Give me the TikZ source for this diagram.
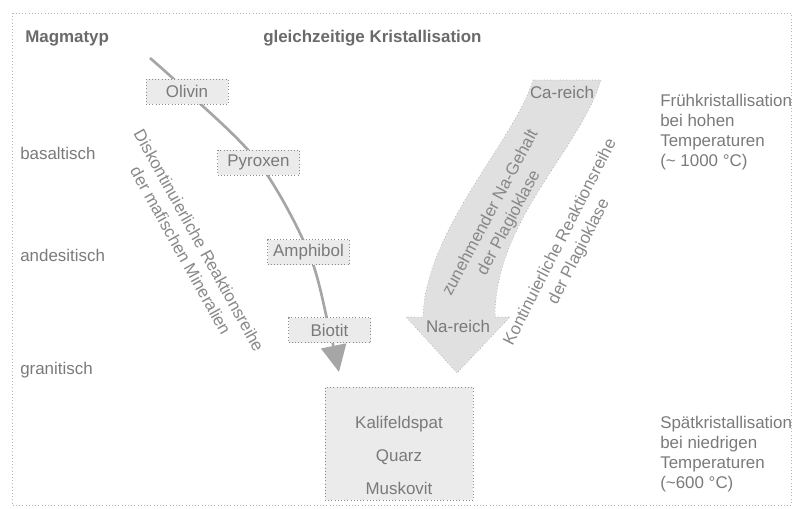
\documentclass[tikz,border=0pt]{standalone}
\usepackage{fontspec}
\setmainfont{Liberation Sans}
\usetikzlibrary{arrows.meta,backgrounds}

\definecolor{txtgray}{HTML}{7A7A7A}
\definecolor{titlegray}{HTML}{6A6A6A}
\definecolor{softgray}{HTML}{888888}
\definecolor{boxfill}{HTML}{EBEBEB}
\definecolor{boxline}{HTML}{8C8C8C}
\definecolor{arrowfill}{HTML}{E0E0E0}
\definecolor{curvegray}{HTML}{A6A6A6}
\definecolor{framegray}{HTML}{B5B5B5}

\tikzset{
  lbl/.style={text=txtgray, font=\fontsize{12.7}{15}\selectfont, inner sep=0pt},
  titel/.style={lbl, text=titlegray, font=\fontsize{12.7}{15}\selectfont\bfseries},
  mineral/.style={lbl, draw=boxline, dotted, fill=boxfill,
    minimum width=61.5pt, minimum height=18.75pt},
  schraeg/.style={lbl, text=softgray, align=center, font=\fontsize{12.7}{15.75}\selectfont},
  reihe/.style={draw=curvegray, line width=2pt, -{Triangle[length=20pt,width=19pt]}},
}

\begin{document}
\begin{tikzpicture}[x=0.75pt,y=-0.75pt]
  \useasboundingbox (0,0) rectangle (794,508);
  \draw[framegray, dotted] (12,13) rectangle (791,505);

  % Kopfzeile und Magmatypen
  \node[titel, anchor=west] (magmatyp) at (25,38) {Magmatyp};
  \node[titel, anchor=west] (gleichzeitig) at (263,38) {gleichzeitige Kristallisation};
  \foreach \typ/\y in {basaltisch/153, andesitisch/255, granitisch/370}{
    \node[lbl, anchor=west] (\typ) at (20,\y) {\typ};
  }

  % Temperaturen rechts
  \node[lbl, anchor=west, align=left] (frueh) at (660,132)
    {Frühkristallisation\\bei hohen\\Temperaturen\\(\textasciitilde{} 1000 °C)};
  \node[lbl, anchor=west, align=left] (spaet) at (660,454)
    {Spätkristallisation\\bei niedrigen\\Temperaturen\\(\textasciitilde600 °C)};

  % diskontinuierliche Reihe
  \coordinate (beginn) at (150,58);
  \coordinate (ende) at (339,372);
  \node[mineral] (olivin) at (187,91.5) {Olivin};
  \node[mineral] (pyroxen) at (258.5,162.5) {Pyroxen};
  \node[mineral] (amphibol) at (308.5,252) {Amphibol};
  \node[mineral] (biotit) at (329.5,330) {Biotit};
  \begin{pgfonlayer}{background}
    \draw[reihe] plot[smooth, tension=0.55] coordinates
      {(beginn) (olivin.center) (pyroxen.center) (amphibol.center) (biotit.center) (ende)};
  \end{pgfonlayer}
  \node[schraeg, rotate=-61] (diskont) at (190,245.5)
    {Diskontinuierliche Reaktionsreihe\\der mafischen Mineralien};

  % kontinuierliche Reihe (Blockpfeil)
  \filldraw[fill=arrowfill, draw=boxline, dotted]
    (533,80) .. controls (515,140) and (425,230) .. (423,317)
    -- (406,317) -- (457,373) -- (510,317) -- (495,317)
    .. controls (495,220) and (580,150) .. (601,80) -- cycle;
  \node[lbl] (careich) at (562,92) {Ca-reich};
  \node[lbl] (nareich) at (458,326) {Na-reich};
  \node[schraeg, rotate=62] (zunahme) at (500,218)
    {zunehmender Na-Gehalt\\der Plagioklase};
  \node[schraeg, rotate=63] (kontin) at (570,247)
    {Kontinuierliche Reaktionsreihe\\der Plagioklase};

  % Restschmelze
  \node[mineral, minimum width=111pt, minimum height=84.75pt] (rest) at (399,443.5) {};
  \node[lbl, align=center, font=\fontsize{12.7}{24.75}\selectfont] (restminerale) at (399,455)
    {Kalifeldspat\\Quarz\\Muskovit};
\end{tikzpicture}
\end{document}
